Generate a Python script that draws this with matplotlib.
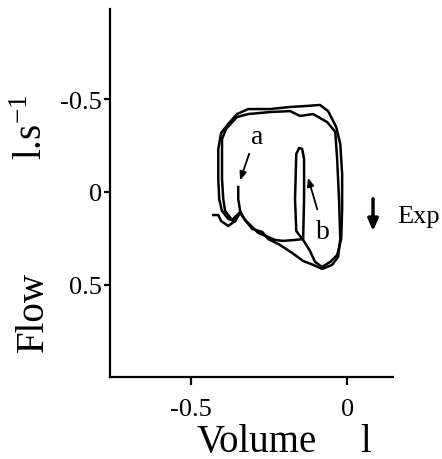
import matplotlib
matplotlib.use("Agg")
import matplotlib.pyplot as plt

plt.rcParams['font.family'] = ['Liberation Serif', 'DejaVu Serif']
plt.rcParams['mathtext.fontset'] = 'custom'
plt.rcParams['mathtext.rm'] = 'Liberation Serif'

# Breath 1 (volume in l, flow in l/s; positive flow = expiration, plotted downward)
vol1 = [-0.429, -0.413, -0.404, -0.381, -0.359, -0.343, -0.324, -0.304, -0.285, -0.260,
        -0.231, -0.205, -0.167, -0.141, -0.138, -0.138, -0.144, -0.154, -0.163, -0.167,
        -0.163, -0.141, -0.119, -0.103, -0.080, -0.054, -0.032, -0.019, -0.016, -0.016,
        -0.022, -0.035, -0.061, -0.087, -0.135, -0.183, -0.247, -0.317, -0.353, -0.381,
        -0.404, -0.413, -0.413, -0.410, -0.401, -0.381, -0.359]
flow1 = [0.124, 0.124, 0.156, 0.183, 0.156, 0.113, 0.156, 0.188, 0.220, 0.237,
         0.258, 0.263, 0.258, 0.253, 0.038, -0.177, -0.231, -0.237, -0.204, 0.038,
         0.210, 0.258, 0.317, 0.376, 0.403, 0.376, 0.339, 0.253, 0.091, -0.097,
         -0.258, -0.349, -0.435, -0.468, -0.462, -0.457, -0.446, -0.446, -0.419, -0.366,
         -0.317, -0.231, -0.070, 0.038, 0.102, 0.145, 0.156]

# Breath 2 (starting at point a)
vol2 = [-0.349, -0.349, -0.343, -0.330, -0.304, -0.272, -0.253, -0.215, -0.176, -0.141,
        -0.109, -0.080, -0.048, -0.029, -0.022, -0.026, -0.032, -0.038, -0.064, -0.109,
        -0.151, -0.183, -0.247, -0.317, -0.353, -0.388, -0.401, -0.401, -0.397, -0.391,
        -0.369, -0.346]
flow2 = [-0.027, 0.038, 0.102, 0.145, 0.199, 0.215, 0.253, 0.285, 0.328, 0.371,
         0.392, 0.414, 0.392, 0.349, 0.253, 0.038, -0.177, -0.323, -0.376, -0.419,
         -0.409, -0.435, -0.430, -0.419, -0.403, -0.339, -0.285, -0.070, 0.038, 0.102,
         0.151, 0.113]

xticks = [-0.5, 0]
xticklabels = ['-0.5', '0']
yticks = [-0.5, 0, 0.5]
yticklabels = ['-0.5', '0', '0.5']

fig = plt.figure(figsize=(4.42, 4.60), dpi=100)
ax = fig.add_axes([110/442, 1-378/460, 283/442, 368/460])

ax.plot(vol1, flow1, color='black', lw=1.8, solid_joinstyle='round')
ax.plot(vol2, flow2, color='black', lw=1.8, solid_joinstyle='round')

ax.set_xlim(-0.76, 0.147)
ax.set_ylim(0.995, -0.984)

for s in ['top', 'right']:
    ax.spines[s].set_visible(False)
for s in ['left', 'bottom']:
    ax.spines[s].set_linewidth(1.6)

ax.set_xticks(xticks)
ax.set_xticklabels(xticklabels)
ax.set_yticks(yticks)
ax.set_yticklabels(yticklabels)
ax.tick_params(axis='x', direction='out', length=6, width=1.6, labelsize=19, pad=9)
ax.tick_params(axis='y', direction='out', length=4, width=1.6, labelsize=19, pad=2)

# annotations a and b
ax.text(-0.288, -0.301, 'a', fontsize=20, ha='center', va='center')
ax.annotate('', xy=(-0.346, -0.048), xytext=(-0.311, -0.220),
            arrowprops=dict(arrowstyle='-|>,head_length=0.5,head_width=0.2', color='black', lw=1.3))
ax.text(-0.077, 0.215, 'b', fontsize=20, ha='center', va='center')
ax.annotate('', xy=(-0.128, -0.091), xytext=(-0.093, 0.108),
            arrowprops=dict(arrowstyle='-|>,head_length=0.5,head_width=0.2', color='black', lw=1.3))

# Exp arrow
ax.annotate('', xy=(0.083, 0.226), xytext=(0.083, 0.022), annotation_clip=False,
            arrowprops=dict(arrowstyle='-|>,head_length=0.7,head_width=0.3', color='black', lw=2.5))
ax.text(0.160, 0.13, 'Exp', fontsize=19, ha='left', va='center', clip_on=False)

# axis labels
fig.text(257/442, 1-443/460, 'Volume', fontsize=28, ha='center', va='center')
fig.text(366/442, 1-443/460, 'l', fontsize=28, ha='center', va='center')
fig.text(33/442, 1-312/460, 'Flow', fontsize=28, ha='center', va='center', rotation=90)
fig.text(33/442, 1-127/460, r'l.s$^{\mathregular{-1}}$', fontsize=28, ha='center', va='center', rotation=90)

fig.savefig('out.png', dpi=100)
